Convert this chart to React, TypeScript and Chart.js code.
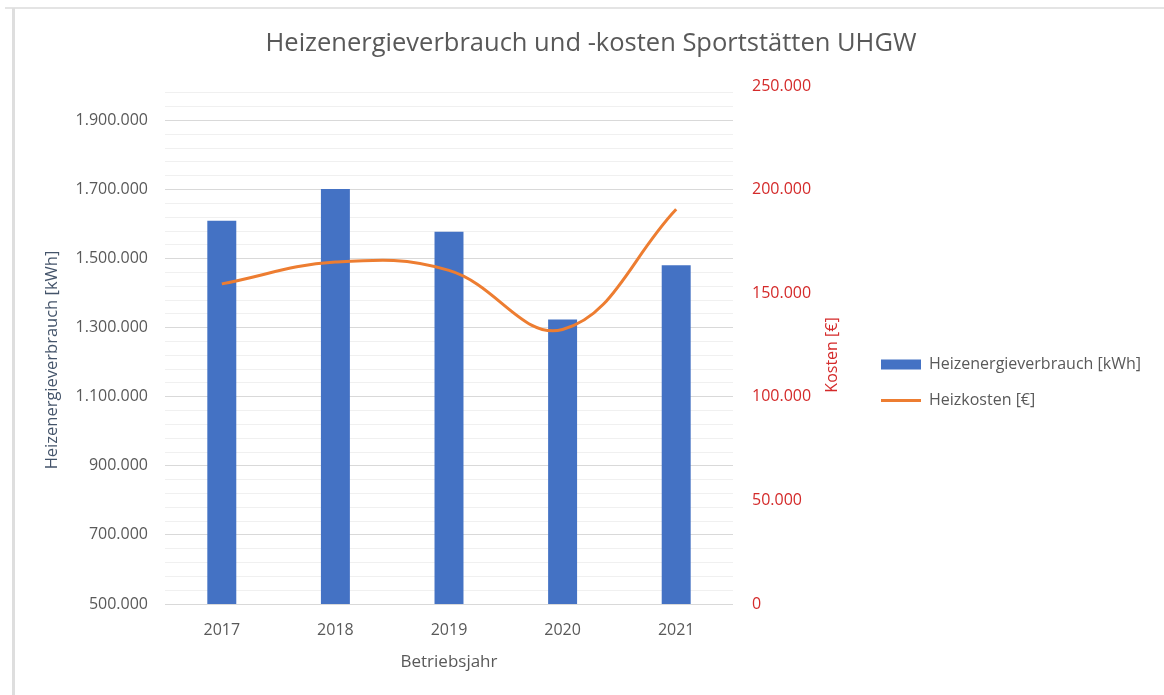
import React, { useEffect, useRef } from 'react';
import { Chart, registerables } from 'chart.js';

Chart.register(...registerables);

// ---- data ----
const categories = ['2017', '2018', '2019', '2020', '2021'];
const energyKWh = [1610000, 1702000, 1578000, 1324000, 1481000];
const costsEUR = [154500, 165000, 161000, 132500, 190500];

const energyTicks = [500000, 700000, 900000, 1100000, 1300000, 1500000, 1700000, 1900000];
const costTicks = [0, 50000, 100000, 150000, 200000, 250000];
const energyMin = 500000;
const energyMax = 2000000;
const energyMinorStep = 40000;
const costMin = 0;
const costMax = 250000;

const seriesLabels = ['Heizenergieverbrauch [kWh]', 'Heizkosten [€]'];
const chartTitle = 'Heizenergieverbrauch und -kosten Sportstätten UHGW';
const xTitle = 'Betriebsjahr';
const yTitle = 'Heizenergieverbrauch [kWh]';
const y1Title = 'Kosten [€]';

// ---- styles ----
const FAMILY = "'Open Sans', sans-serif";
const GREY = '#595959';
const SLATE = '#44546a';
const RED = '#d42a2a';
const BLUE = '#4472c4';
const ORANGE = '#ed7d31';

const fmt = (v: number) => String(Math.round(v)).replace(/\B(?=(\d{3})+(?!\d))/g, '.');

const axisTitlePlugin = {
  id: 'axisTitlePlugin',
  afterDraw(chart: any) {
    const { ctx, chartArea } = chart;
    const cy = (chartArea.top + chartArea.bottom) / 2;
    ctx.save();
    ctx.textAlign = 'center';
    ctx.textBaseline = 'middle';
    // left title
    ctx.save();
    ctx.font = `16.5px ${FAMILY}`;
    ctx.fillStyle = SLATE;
    ctx.translate(chartArea.left - 113, cy + 15);
    ctx.rotate(-Math.PI / 2);
    ctx.fillText(yTitle, 0, 0);
    ctx.restore();
    // right title
    ctx.save();
    ctx.font = `16px ${FAMILY}`;
    ctx.fillStyle = RED;
    ctx.translate(chartArea.right + 99, cy + 10);
    ctx.rotate(-Math.PI / 2);
    ctx.fillText(y1Title, 0, 0);
    ctx.restore();
    ctx.restore();
  },
};

export default function App() {
  const ref = useRef<HTMLCanvasElement | null>(null);

  useEffect(() => {
    if (!ref.current) return;
    Chart.defaults.font.family = FAMILY;

    const m = document.createElement('canvas').getContext('2d')!;
    m.font = `16px ${FAMILY}`;
    const textW = Math.max(...seriesLabels.map((s) => m.measureText(s).width));
    const legendPad = 20;
    const legendNatural = legendPad + 40 + 8 + textW + 10;
    const legendSpace = 303;
    const padR = Math.max(0, legendSpace - legendNatural);
    const padL = 18 + padR;
    const leftW = 165 - padL;

    const chart = new Chart(ref.current, {
      type: 'bar',
      data: {
        labels: categories,
        datasets: [
          {
            type: 'bar',
            label: seriesLabels[0],
            data: energyKWh,
            backgroundColor: BLUE,
            borderWidth: 0,
            yAxisID: 'y',
            order: 1,
            categoryPercentage: 1,
            barPercentage: 0.255,
          } as any,
          {
            type: 'line',
            label: seriesLabels[1],
            data: costsEUR,
            borderColor: ORANGE,
            backgroundColor: ORANGE,
            borderWidth: 3,
            pointRadius: 0,
            tension: 0.4,
            yAxisID: 'y1',
            order: 0,
          } as any,
        ],
      },
      options: {
        animation: false,
        responsive: false,
        devicePixelRatio: 1,
        layout: { padding: { left: padL, right: padR, top: 0, bottom: 0 } },
        scales: {
          x: {
            grid: { display: false, drawTicks: false },
            border: { display: false },
            ticks: { padding: 17, color: GREY, font: { size: 16 } },
            title: {
              display: true,
              text: xTitle,
              color: GREY,
              font: { size: 17 },
              padding: { top: 0, bottom: 22.8 },
            },
            afterFit: (s: any) => {
              s.height = 91;
            },
          },
          y: {
            type: 'linear',
            position: 'left',
            min: energyMin,
            max: energyMax,
            afterBuildTicks: (s: any) => {
              const t: any[] = [];
              for (let v = energyMin; v < energyMax; v += energyMinorStep) t.push({ value: v });
              s.ticks = t;
            },
            afterFit: (s: any) => {
              s.width = leftW;
            },
            grid: {
              drawTicks: false,
              color: (c: any) => (energyTicks.includes(c.tick?.value) ? '#d9d9d9' : '#f0f0f0'),
              lineWidth: 1,
            },
            border: { display: false },
            ticks: {
              autoSkip: false,
              padding: 17,
              color: GREY,
              font: { size: 16 },
              callback: (v: any) => (energyTicks.includes(v) ? fmt(v) : ''),
            },
          },
          y1: {
            type: 'linear',
            position: 'right',
            min: costMin,
            max: costMax,
            afterBuildTicks: (s: any) => {
              s.ticks = costTicks.map((v) => ({ value: v }));
            },
            afterFit: (s: any) => {
              s.width = 128;
            },
            grid: { display: false, drawTicks: false },
            border: { display: false },
            ticks: {
              autoSkip: false,
              padding: 19,
              color: RED,
              font: { size: 16 },
              callback: (v: any) => fmt(v),
            },
          },
        },
        plugins: {
          title: {
            display: true,
            text: chartTitle,
            color: GREY,
            font: { size: 25.5, weight: 'normal' as any },
            padding: { top: 28.7, bottom: 26.7 },
          },
          legend: {
            display: true,
            position: 'right',
            align: 'center',
            maxWidth: legendSpace,
            title: { display: true, text: ' ', font: { size: 10 }, padding: { top: 58, bottom: 0 } },
            labels: {
              padding: legendPad,
              boxWidth: 40,
              boxHeight: 10,
              usePointStyle: true,
              pointStyleWidth: 40,
              color: GREY,
              font: { size: 16 },
              sort: (a: any, b: any) => a.datasetIndex - b.datasetIndex,
              generateLabels: (ch: any) => {
                const items = (Chart.defaults.plugins.legend.labels as any).generateLabels(ch);
                return items.map((it: any) => ({
                  ...it,
                  pointStyle: ch.data.datasets[it.datasetIndex].type === 'line' ? 'line' : 'rect',
                }));
              },
            },
          } as any,
          tooltip: { enabled: false },
        },
      },
      plugins: [axisTitlePlugin],
    });
    return () => chart.destroy();
  }, []);

  return (
    <div style={{ position: 'fixed', left: 0, top: 0, width: 1164, height: 695, background: '#fff', overflow: 'hidden' }}>
      <div style={{ position: 'absolute', left: 5, right: 0, top: 7, height: 2, background: '#e4e4e4' }} />
      <div style={{ position: 'absolute', left: 12, width: 3, top: 8, bottom: 0, background: '#dedede' }} />
      <canvas ref={ref} width={1164} height={695} style={{ position: 'absolute', left: 0, top: 0, width: 1164, height: 695 }} />
    </div>
  );
}
